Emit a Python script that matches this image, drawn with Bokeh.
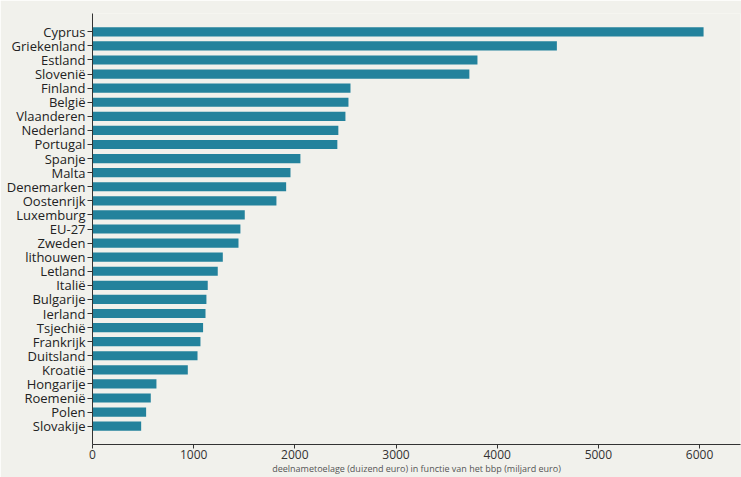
from bokeh.plotting import figure
from bokeh.models import FactorRange, Range1d, ColumnDataSource, FixedTicker
from bokeh.embed import file_html
from bokeh.resources import INLINE

countries = ["Cyprus", "Griekenland", "Estland", "Slovenië", "Finland", "België",
             "Vlaanderen", "Nederland", "Portugal", "Spanje", "Malta", "Denemarken",
             "Oostenrijk", "Luxemburg", "EU-27", "Zweden", "lithouwen", "Letland",
             "Italië", "Bulgarije", "Ierland", "Tsjechië", "Frankrijk", "Duitsland",
             "Kroatië", "Hongarije", "Roemenië", "Polen", "Slovakije"]
values = [6040, 4590, 3805, 3725, 2550, 2530, 2500, 2430, 2420, 2055, 1957, 1914,
          1818, 1505, 1462, 1443, 1288, 1238, 1139, 1126, 1117, 1093, 1067, 1038,
          942, 632, 576, 530, 481]
x_ticks = [0, 1000, 2000, 3000, 4000, 5000, 6000]
x_title = "deelnametoelage (duizend euro) in functie van het bbp (miljard euro)"

BG = "#f1f1ec"
BAR = "#23829c"
FONT = "Open Sans"

src = ColumnDataSource(dict(country=countries, value=values))
n = len(countries)
yr = FactorRange(factors=list(reversed(countries)), range_padding=1.6 / n,
                 range_padding_units="percent")

p = figure(width=741, height=477, y_range=yr, x_range=Range1d(0, 6405),
           output_backend="svg", toolbar_location=None,
           background_fill_color=BG, border_fill_color=BG,
           min_border_left=92, min_border_right=1, min_border_top=13,
           min_border_bottom=10)

p.hbar(y="country", right="value", left=0, height=0.65, source=src,
       fill_color=BAR, line_color=None)

p.xgrid.visible = False
p.ygrid.visible = False
p.outline_line_color = None

p.xaxis.ticker = FixedTicker(ticks=x_ticks)
p.xaxis.axis_label = x_title
p.xaxis.axis_label_text_font = FONT
p.xaxis.axis_label_text_font_size = "9px"
p.xaxis.axis_label_text_font_style = "normal"
p.xaxis.axis_label_text_color = "#555555"
p.xaxis.axis_label_standoff = 0
p.xaxis.major_label_text_font = FONT
p.xaxis.major_label_text_font_size = "12px"
p.xaxis.major_label_text_color = "#333333"
p.xaxis.major_label_standoff = 1
p.xaxis.major_tick_out = 4
p.xaxis.major_tick_in = 0
p.xaxis.minor_tick_line_color = None

p.yaxis.major_label_text_font = FONT
p.yaxis.major_label_text_font_size = "13px"
p.yaxis.major_label_text_color = "#222222"
p.yaxis.major_label_standoff = 2
p.yaxis.major_tick_out = 5
p.yaxis.major_tick_in = 0

for ax in (p.xaxis, p.yaxis):
    ax.axis_line_color = "#333333"
    ax.major_tick_line_color = "#333333"

open("out.html", "w").write(file_html(p, INLINE))
